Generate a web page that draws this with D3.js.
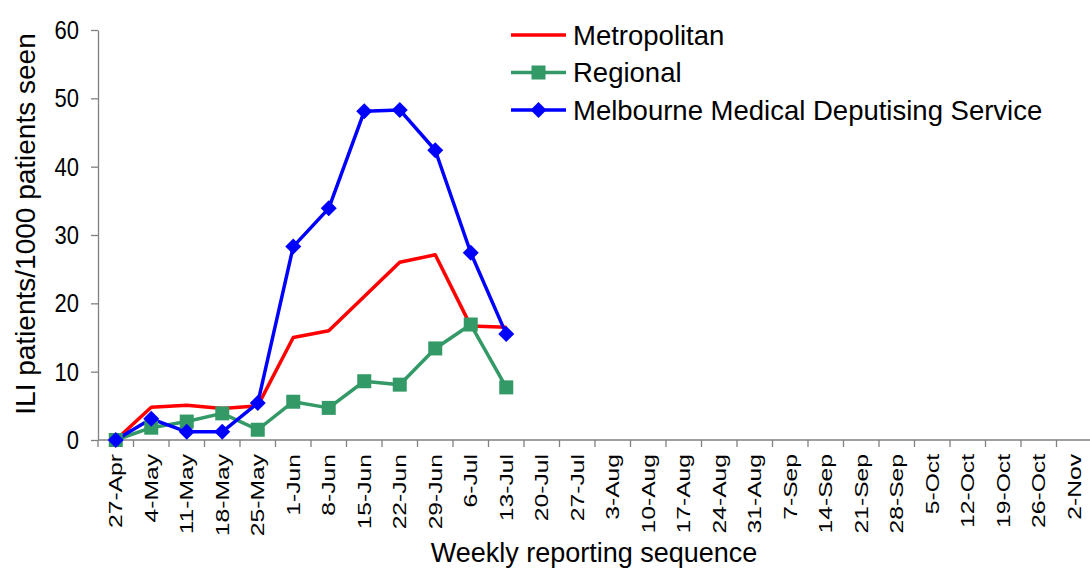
<!DOCTYPE html>
<html lang="en">
<head>
    <meta charset="UTF-8">
    <title>ILI patients per 1000 patients seen</title>
    <script src="https://d3js.org/d3.v7.min.js"></script>
    <style>
        body { margin: 0; background: #fff; }
        text { font-family: "Liberation Sans", Arial, sans-serif; fill: #000; }
    </style>
</head>
<body>
    <div id="chart"></div>

    <script>
        // Weekly reporting sequence (week starting)
        const weeks = ["27-Apr", "4-May", "11-May", "18-May", "25-May", "1-Jun", "8-Jun",
            "15-Jun", "22-Jun", "29-Jun", "6-Jul", "13-Jul", "20-Jul", "27-Jul", "3-Aug",
            "10-Aug", "17-Aug", "24-Aug", "31-Aug", "7-Sep", "14-Sep", "21-Sep", "28-Sep",
            "5-Oct", "12-Oct", "19-Oct", "26-Oct", "2-Nov"];

        // ILI patients / 1000 patients seen (only reported up to 13-Jul)
        const metropolitan = [0, 4.8, 5.1, 4.6, 5.0, 15.0, 16.0, 21.0, 26.0, 27.1, 16.7, 16.5];
        const regional = [0, 1.8, 2.7, 3.9, 1.5, 5.6, 4.7, 8.6, 8.1, 13.4, 16.9, 7.7];
        const mmds = [0, 3.1, 1.2, 1.2, 5.4, 28.3, 33.9, 48.1, 48.3, 42.4, 27.4, 15.5];

        const yTicks = [0, 10, 20, 30, 40, 50, 60];

        const series = [
            { name: "Metropolitan", values: metropolitan, color: "#ff0000", marker: "none" },
            { name: "Regional", values: regional, color: "#339966", marker: "square" },
            { name: "Melbourne Medical Deputising Service", values: mmds, color: "#0000ff", marker: "diamond" }
        ];

        const svgWidth = 1090;
        const svgHeight = 568;
        const axisColor = "#808080";

        const svg = d3.select("#chart")
            .append("svg")
            .attr("width", svgWidth)
            .attr("height", svgHeight);

        // Scales
        const xScale = d3.scaleBand()
            .domain(weeks)
            .range([98, 98 + weeks.length * 35.5]);

        const yScale = d3.scaleLinear()
            .domain([0, 60])
            .range([440, 30]);

        const xc = (i) => xScale(weeks[i]) + xScale.bandwidth() / 2;

        // Y axis (the source picture is a little stretched vertically)
        const yAxis = svg.append("g")
            .attr("transform", "translate(98,0)")
            .call(d3.axisLeft(yScale).tickValues(yTicks).tickSize(7).tickSizeOuter(0).tickPadding(12));
        yAxis.select(".domain").attr("stroke", axisColor).attr("stroke-width", 1.3);
        yAxis.selectAll(".tick line").attr("stroke", axisColor).attr("stroke-width", 1.3);
        yAxis.selectAll(".tick text")
            .style("font-size", "22px")
            .attr("fill", "#000")
            .attr("transform", "scale(1,1.2)");

        // X axis: ticks sit between categories
        const xAxis = svg.append("g")
            .attr("transform", "translate(0,440)");
        xAxis.append("line")
            .attr("x1", 98).attr("x2", xScale.range()[1])
            .attr("stroke", axisColor).attr("stroke-width", 1.3);
        xAxis.selectAll(".xtick")
            .data(weeks)
            .enter().append("line")
            .attr("class", "xtick")
            .attr("x1", d => xScale(d)).attr("x2", d => xScale(d))
            .attr("y1", 0).attr("y2", 7)
            .attr("stroke", axisColor).attr("stroke-width", 1.3);
        xAxis.selectAll(".xlabel")
            .data(weeks)
            .enter().append("text")
            .attr("class", "xlabel")
            .attr("transform", d => `translate(${xScale(d) + xScale.bandwidth() / 2 + 6.5},14) rotate(-90) scale(1.37,1)`)
            .attr("text-anchor", "end")
            .style("font-size", "18px")
            .text(d => d);

        // Lines
        const line = d3.line()
            .x((d, i) => xc(i))
            .y(d => yScale(d));

        series.forEach(s => {
            svg.append("path")
                .datum(s.values)
                .attr("fill", "none")
                .attr("stroke", s.color)
                .attr("stroke-width", 3.5)
                .attr("stroke-linejoin", "round")
                .attr("d", line);
        });

        function drawMarker(g, type, x, y, color) {
            if (type === "square") {
                g.append("rect")
                    .attr("x", x - 7).attr("y", y - 7)
                    .attr("width", 14).attr("height", 14)
                    .attr("fill", color);
            } else if (type === "diamond") {
                g.append("path")
                    .attr("d", `M${x},${y - 8}L${x + 8},${y}L${x},${y + 8}L${x - 8},${y}Z`)
                    .attr("fill", color);
            }
        }

        series.forEach(s => {
            const g = svg.append("g");
            s.values.forEach((v, i) => drawMarker(g, s.marker, xc(i), yScale(v), s.color));
        });

        // Axis titles
        svg.append("text")
            .attr("x", 594)
            .attr("y", 562)
            .attr("text-anchor", "middle")
            .style("font-size", "27px")
            .text("Weekly reporting sequence");

        svg.append("text")
            .attr("transform", "translate(35,224) rotate(-90)")
            .attr("text-anchor", "middle")
            .style("font-size", "28px")
            .text("ILI patients/1000 patients seen");

        // Legend
        const legend = svg.append("g");
        series.forEach((s, i) => {
            const y = 35 + i * 37.5;
            legend.append("line")
                .attr("x1", 511).attr("x2", 566)
                .attr("y1", y).attr("y2", y)
                .attr("stroke", s.color)
                .attr("stroke-width", 3.5);
            drawMarker(legend, s.marker, 538.5, y, s.color);
            legend.append("text")
                .attr("x", 573)
                .attr("y", y + 9.5)
                .style("font-size", "27.5px")
                .text(s.name);
        });
    </script>
</body>
</html>
